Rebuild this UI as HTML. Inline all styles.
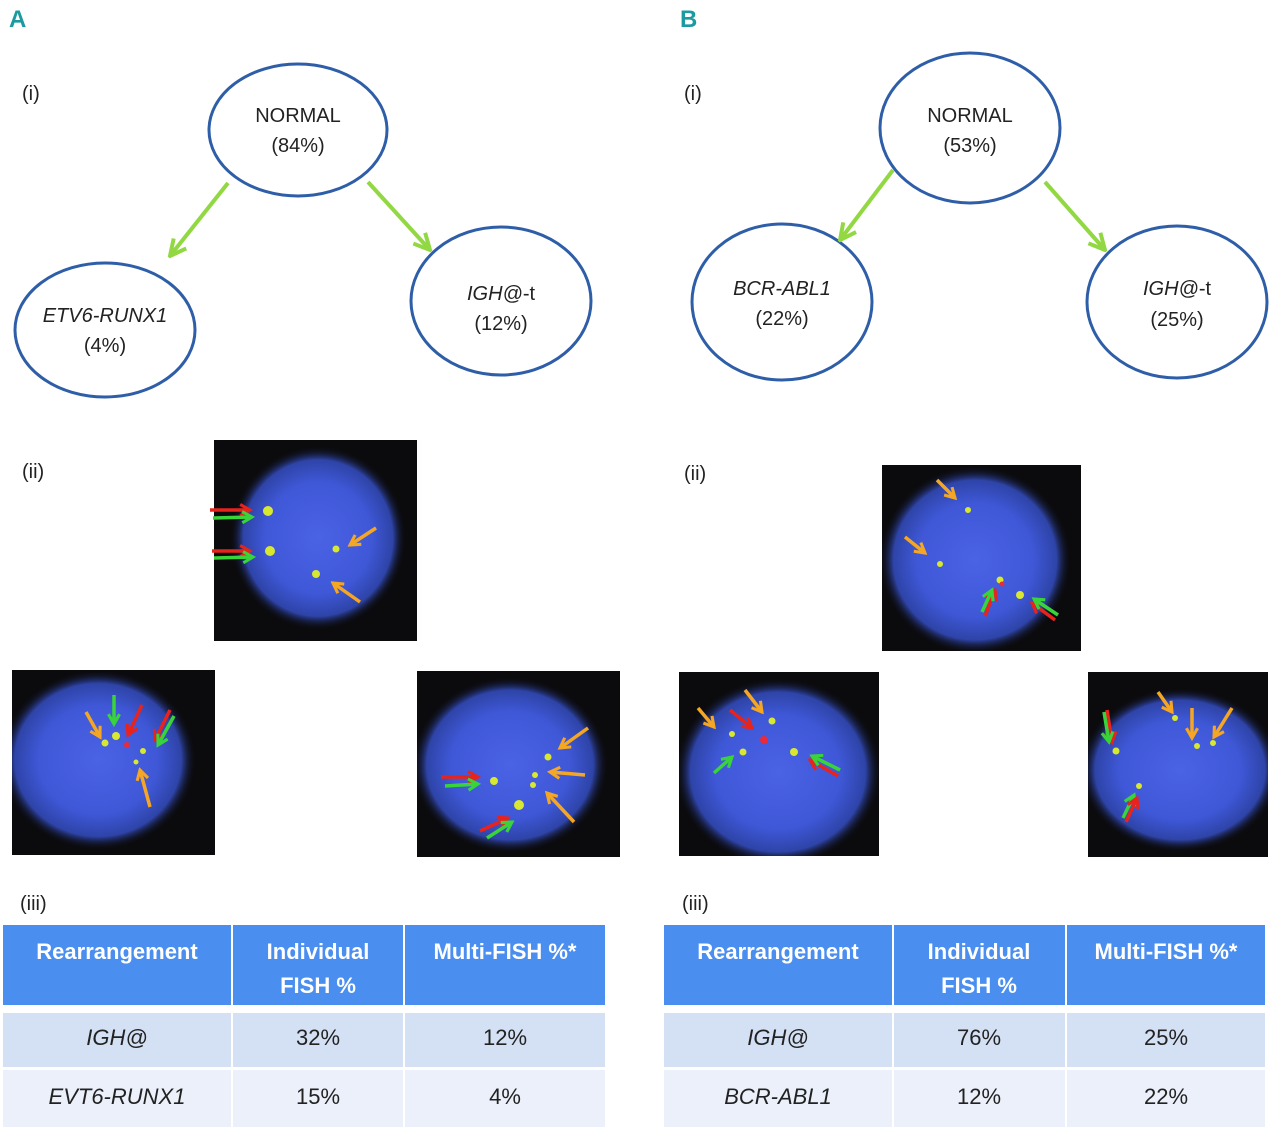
<!DOCTYPE html>
<html><head><meta charset="utf-8"><style>
html,body{margin:0;padding:0;background:#fff;}
svg{display:block;font-family:"Liberation Sans",sans-serif;}
</style></head><body>
<svg width="1280" height="1138" viewBox="0 0 1280 1138" xmlns="http://www.w3.org/2000/svg">
<defs>
<radialGradient id="nuc" cx="50%" cy="50%" r="50%">
<stop offset="0" stop-color="#4a62e4"/><stop offset="0.6" stop-color="#3f58d8"/><stop offset="0.85" stop-color="#2e44a8"/><stop offset="1" stop-color="#0b0b0e" stop-opacity="0"/>
</radialGradient>
<clipPath id="c1"><rect x="214" y="440" width="203" height="201"/></clipPath>
<clipPath id="c2"><rect x="12" y="670" width="203" height="185"/></clipPath>
<clipPath id="c3"><rect x="417" y="671" width="203" height="186"/></clipPath>
<clipPath id="c4"><rect x="882" y="465" width="199" height="186"/></clipPath>
<clipPath id="c5"><rect x="679" y="672" width="200" height="184"/></clipPath>
<clipPath id="c6"><rect x="1088" y="672" width="180" height="185"/></clipPath>
<marker id="mg" viewBox="0 0 10 10" refX="9" refY="5" markerWidth="5" markerHeight="5" orient="auto"><path d="M1,1 L9,5 L1,9" fill="none" stroke="#92d843" stroke-width="2"/></marker>
<marker id="mo" viewBox="0 0 10 10" refX="8" refY="5" markerWidth="4" markerHeight="4" orient="auto"><path d="M1,1 L8,5 L1,9" fill="none" stroke="#f5a623" stroke-width="2.2"/></marker>
<marker id="mr" viewBox="0 0 10 10" refX="8" refY="5" markerWidth="4" markerHeight="4" orient="auto"><path d="M1,1 L8,5 L1,9" fill="none" stroke="#e8231c" stroke-width="2.2"/></marker>
<marker id="mgr" viewBox="0 0 10 10" refX="8" refY="5" markerWidth="4" markerHeight="4" orient="auto"><path d="M1,1 L8,5 L1,9" fill="none" stroke="#38d43a" stroke-width="2.2"/></marker>
</defs>

<text x="9" y="27" font-size="24" font-weight="bold" fill="#1b9aa0">A</text>
<text x="680" y="27" font-size="24" font-weight="bold" fill="#1b9aa0">B</text>

<g font-size="20" fill="#222">
<text x="22" y="100">(i)</text><text x="684" y="100">(i)</text>
<text x="22" y="478">(ii)</text><text x="684" y="480">(ii)</text>
<text x="20" y="910">(iii)</text><text x="682" y="910">(iii)</text>
</g>

<g fill="#fff" stroke="#2f5ea8" stroke-width="3">
<ellipse cx="298" cy="130" rx="89" ry="66"/>
<ellipse cx="105" cy="330" rx="90" ry="67"/>
<ellipse cx="501" cy="301" rx="90" ry="74"/>
<ellipse cx="970" cy="128" rx="90" ry="75"/>
<ellipse cx="782" cy="302" rx="90" ry="78"/>
<ellipse cx="1177" cy="302" rx="90" ry="76"/>
</g>
<g stroke="#92d843" stroke-width="4" fill="none">
<line x1="228" y1="183" x2="170" y2="256" marker-end="url(#mg)"/>
<line x1="368" y1="182" x2="430" y2="250" marker-end="url(#mg)"/>
<line x1="893" y1="170" x2="840" y2="240" marker-end="url(#mg)"/>
<line x1="1045" y1="182" x2="1105" y2="250" marker-end="url(#mg)"/>
</g>
<g font-size="20" fill="#222" text-anchor="middle">
<text x="298" y="122">NORMAL</text><text x="298" y="152">(84%)</text>
<text x="105" y="322" font-style="italic">ETV6-RUNX1</text><text x="105" y="352">(4%)</text>
<text x="501" y="300"><tspan font-style="italic">IGH@</tspan>-t</text><text x="501" y="330">(12%)</text>
<text x="970" y="122">NORMAL</text><text x="970" y="152">(53%)</text>
<text x="782" y="295" font-style="italic">BCR-ABL1</text><text x="782" y="325">(22%)</text>
<text x="1177" y="295"><tspan font-style="italic">IGH@</tspan>-t</text><text x="1177" y="326">(25%)</text>
</g>

<g>
<rect x="214" y="440" width="203" height="201" fill="#0b0b0e"/>
<ellipse cx="318" cy="538" rx="88" ry="92" fill="url(#nuc)" clip-path="url(#c1)"/>
<rect x="12" y="670" width="203" height="185" fill="#0b0b0e"/>
<ellipse cx="98" cy="760" rx="98" ry="90" fill="url(#nuc)" clip-path="url(#c2)"/>
<rect x="417" y="671" width="203" height="186" fill="#0b0b0e"/>
<ellipse cx="510" cy="765" rx="98" ry="88" fill="url(#nuc)" clip-path="url(#c3)"/>
<rect x="882" y="465" width="199" height="186" fill="#0b0b0e"/>
<ellipse cx="975" cy="560" rx="96" ry="94" fill="url(#nuc)" clip-path="url(#c4)"/>
<rect x="679" y="672" width="200" height="184" fill="#0b0b0e"/>
<ellipse cx="778" cy="772" rx="103" ry="94" fill="url(#nuc)" clip-path="url(#c5)"/>
<rect x="1088" y="672" width="180" height="185" fill="#0b0b0e"/>
<ellipse cx="1180" cy="770" rx="100" ry="82" fill="url(#nuc)" clip-path="url(#c6)"/>
</g>
<g fill="#d8e830">
<circle cx="268" cy="511" r="5"/><circle cx="270" cy="551" r="5"/><circle cx="336" cy="549" r="3.5"/><circle cx="316" cy="574" r="4"/>
<circle cx="105" cy="743" r="3.5"/><circle cx="116" cy="736" r="4"/><circle cx="143" cy="751" r="3"/><circle cx="136" cy="762" r="2.5"/>
<circle cx="494" cy="781" r="4"/><circle cx="548" cy="757" r="3.5"/><circle cx="535" cy="775" r="3"/><circle cx="533" cy="785" r="3"/><circle cx="519" cy="805" r="5"/>
<circle cx="968" cy="510" r="3"/><circle cx="940" cy="564" r="3"/><circle cx="1000" cy="580" r="3.5"/><circle cx="1020" cy="595" r="4"/>
<circle cx="772" cy="721" r="3.5"/><circle cx="732" cy="734" r="3"/><circle cx="743" cy="752" r="3.5"/><circle cx="794" cy="752" r="4"/>
<circle cx="1175" cy="718" r="3"/><circle cx="1197" cy="746" r="3"/><circle cx="1213" cy="743" r="3"/><circle cx="1116" cy="751" r="3.5"/><circle cx="1139" cy="786" r="3"/>
</g>
<g fill="#e82a3a"><circle cx="127" cy="745" r="3"/><circle cx="764" cy="740" r="4"/><circle cx="1002" cy="584" r="2.5"/></g>
<g fill="none" stroke-width="3.5">
<line x1="210" y1="510" x2="250" y2="510" stroke="#e8231c" marker-end="url(#mr)"/>
<line x1="213" y1="518" x2="252" y2="517" stroke="#38d43a" marker-end="url(#mgr)"/>
<line x1="212" y1="551" x2="250" y2="551" stroke="#e8231c" marker-end="url(#mr)"/>
<line x1="214" y1="558" x2="253" y2="557" stroke="#38d43a" marker-end="url(#mgr)"/>
<line x1="376" y1="528" x2="350" y2="545" stroke="#f5a623" marker-end="url(#mo)"/>
<line x1="360" y1="602" x2="333" y2="583" stroke="#f5a623" marker-end="url(#mo)"/>
<line x1="86" y1="712" x2="100" y2="737" stroke="#f5a623" marker-end="url(#mo)"/>
<line x1="114" y1="695" x2="114" y2="724" stroke="#38d43a" marker-end="url(#mgr)"/>
<line x1="142" y1="705" x2="128" y2="735" stroke="#e8231c" marker-end="url(#mr)"/>
<line x1="170" y1="710" x2="155" y2="740" stroke="#e8231c" marker-end="url(#mr)"/>
<line x1="174" y1="716" x2="158" y2="745" stroke="#38d43a" marker-end="url(#mgr)"/>
<line x1="150" y1="807" x2="140" y2="770" stroke="#f5a623" marker-end="url(#mo)"/>
<line x1="441" y1="777" x2="478" y2="777" stroke="#e8231c" marker-end="url(#mr)"/>
<line x1="445" y1="786" x2="478" y2="784" stroke="#38d43a" marker-end="url(#mgr)"/>
<line x1="480" y1="831" x2="508" y2="818" stroke="#e8231c" marker-end="url(#mr)"/>
<line x1="487" y1="838" x2="512" y2="822" stroke="#38d43a" marker-end="url(#mgr)"/>
<line x1="588" y1="728" x2="560" y2="748" stroke="#f5a623" marker-end="url(#mo)"/>
<line x1="585" y1="775" x2="550" y2="772" stroke="#f5a623" marker-end="url(#mo)"/>
<line x1="574" y1="822" x2="547" y2="793" stroke="#f5a623" marker-end="url(#mo)"/>
<line x1="937" y1="480" x2="955" y2="498" stroke="#f5a623" marker-end="url(#mo)"/>
<line x1="905" y1="537" x2="925" y2="553" stroke="#f5a623" marker-end="url(#mo)"/>
<line x1="985" y1="616" x2="995" y2="590" stroke="#e8231c" marker-end="url(#mr)"/>
<line x1="982" y1="612" x2="992" y2="590" stroke="#38d43a" marker-end="url(#mgr)"/>
<line x1="1055" y1="620" x2="1032" y2="603" stroke="#e8231c" marker-end="url(#mr)"/>
<line x1="1058" y1="615" x2="1034" y2="599" stroke="#38d43a" marker-end="url(#mgr)"/>
<line x1="698" y1="708" x2="714" y2="727" stroke="#f5a623" marker-end="url(#mo)"/>
<line x1="745" y1="690" x2="762" y2="712" stroke="#f5a623" marker-end="url(#mo)"/>
<line x1="730" y1="710" x2="752" y2="728" stroke="#e8231c" marker-end="url(#mr)"/>
<line x1="714" y1="773" x2="732" y2="757" stroke="#38d43a" marker-end="url(#mgr)"/>
<line x1="838" y1="776" x2="810" y2="760" stroke="#e8231c" marker-end="url(#mr)"/>
<line x1="840" y1="770" x2="812" y2="756" stroke="#38d43a" marker-end="url(#mgr)"/>
<line x1="1107" y1="710" x2="1112" y2="742" stroke="#e8231c" marker-end="url(#mr)"/>
<line x1="1104" y1="712" x2="1109" y2="742" stroke="#38d43a" marker-end="url(#mgr)"/>
<line x1="1158" y1="692" x2="1172" y2="712" stroke="#f5a623" marker-end="url(#mo)"/>
<line x1="1192" y1="708" x2="1192" y2="738" stroke="#f5a623" marker-end="url(#mo)"/>
<line x1="1232" y1="708" x2="1214" y2="737" stroke="#f5a623" marker-end="url(#mo)"/>
<line x1="1123" y1="818" x2="1134" y2="795" stroke="#38d43a" marker-end="url(#mgr)"/>
<line x1="1126" y1="822" x2="1137" y2="798" stroke="#e8231c" marker-end="url(#mr)"/>
</g>

<g>
<rect x="3" y="925" width="228" height="80" fill="#4a8ef0"/>
<rect x="233" y="925" width="170" height="80" fill="#4a8ef0"/>
<rect x="405" y="925" width="200" height="80" fill="#4a8ef0"/>
<rect x="3" y="1013" width="228" height="54" fill="#d4e1f5"/>
<rect x="233" y="1013" width="170" height="54" fill="#d4e1f5"/>
<rect x="405" y="1013" width="200" height="54" fill="#d4e1f5"/>
<rect x="3" y="1070" width="228" height="57" fill="#ebf0fa"/>
<rect x="233" y="1070" width="170" height="57" fill="#ebf0fa"/>
<rect x="405" y="1070" width="200" height="57" fill="#ebf0fa"/>
<rect x="664" y="925" width="228" height="80" fill="#4a8ef0"/>
<rect x="894" y="925" width="171" height="80" fill="#4a8ef0"/>
<rect x="1067" y="925" width="198" height="80" fill="#4a8ef0"/>
<rect x="664" y="1013" width="228" height="54" fill="#d4e1f5"/>
<rect x="894" y="1013" width="171" height="54" fill="#d4e1f5"/>
<rect x="1067" y="1013" width="198" height="54" fill="#d4e1f5"/>
<rect x="664" y="1070" width="228" height="57" fill="#ebf0fa"/>
<rect x="894" y="1070" width="171" height="57" fill="#ebf0fa"/>
<rect x="1067" y="1070" width="198" height="57" fill="#ebf0fa"/>
</g>
<g font-size="22" font-weight="bold" fill="#fff" text-anchor="middle">
<text x="117" y="959">Rearrangement</text>
<text x="318" y="959">Individual</text><text x="318" y="993">FISH %</text>
<text x="505" y="959">Multi-FISH %*</text>
<text x="778" y="959">Rearrangement</text>
<text x="979" y="959">Individual</text><text x="979" y="993">FISH %</text>
<text x="1166" y="959">Multi-FISH %*</text>
</g>
<g font-size="22" fill="#222" text-anchor="middle">
<text x="117" y="1045" font-style="italic">IGH@</text><text x="318" y="1045">32%</text><text x="505" y="1045">12%</text>
<text x="117" y="1104" font-style="italic">EVT6-RUNX1</text><text x="318" y="1104">15%</text><text x="505" y="1104">4%</text>
<text x="778" y="1045" font-style="italic">IGH@</text><text x="979" y="1045">76%</text><text x="1166" y="1045">25%</text>
<text x="778" y="1104" font-style="italic">BCR-ABL1</text><text x="979" y="1104">12%</text><text x="1166" y="1104">22%</text>
</g>
</svg>
</body></html>
